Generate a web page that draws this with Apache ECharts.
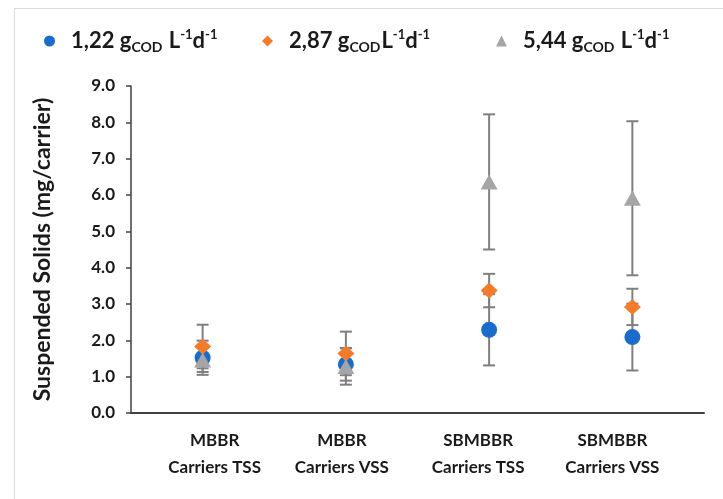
<!DOCTYPE html>
<html>
<head>
<meta charset="UTF-8">
<title>Suspended Solids</title>
<script src="https://cdn.jsdelivr.net/npm/echarts@6/dist/echarts.min.js"></script>
<style>
  html, body { margin: 0; padding: 0; background: #fff; }
  #frame { position: absolute; left: 14px; top: 8px; width: 760px; height: 560px; border: 1px solid #d9d9d9; }
  #chart { position: absolute; left: 0; top: 0; width: 723px; height: 499px; }
</style>
</head>
<body>
<div id="frame"></div>
<div id="chart"></div>
<script type="text/javascript">
  // categories and tick labels
  var categories = ['MBBR\nCarriers TSS', 'MBBR\nCarriers VSS', 'SBMBBR\nCarriers TSS', 'SBMBBR\nCarriers VSS'];
  var yTicks = [0, 1, 2, 3, 4, 5, 6, 7, 8, 9];
  var seriesNames = ['1,22', '2,87', '5,44'];

  // means and error (+/-) per loading rate
  var blueVals = [1.52, 1.34, 2.29, 2.09];
  var blueErr = [0.47, 0.45, 0.98, 0.92];
  var orangeVals = [1.83, 1.64, 3.37, 2.92];
  var orangeErr = [0.60, 0.60, 0.46, 0.50];
  var grayVals = [1.46, 1.28, 6.36, 5.91];
  var grayErr = [0.33, 0.50, 1.86, 2.12];

  var colors = ['#1a6ccc', '#f47b2a', '#a5a5a5'];
  var font = 'Lato, "Liberation Sans", sans-serif';

  // error bar rows: [category index, low, high]
  var errRows = [];
  [[blueVals, blueErr], [orangeVals, orangeErr], [grayVals, grayErr]].forEach(function (p) {
    for (var i = 0; i < p[0].length; i++) {
      errRows.push([i, p[0][i] - p[1][i], p[0][i] + p[1][i]]);
    }
  });

  // small shifts of the category text, like in the original
  var labelShift = [12, -4, -11, -20];

  function legendText(name) {
    if (name === '2,87') {
      return '{sp|}{b|' + name + ' g}{sub|COD}{b|L}{sup|-1}{b|d}{sup|-1}';
    }
    return '{sp|}{b|' + name + ' g}{sub|COD}{b| L}{sup|-1}{b|d}{sup|-1}';
  }
  var legendRich = {
    sp: { width: 11 },
    b: { fontFamily: font, fontWeight: 'bold', fontSize: 22, color: '#1a1a1a', lineHeight: 26 },
    sub: { fontFamily: font, fontWeight: 'bold', fontSize: 14, color: '#1a1a1a', lineHeight: 14, verticalAlign: 'bottom', padding: [0, 1, 0, 0] },
    sup: { fontFamily: font, fontWeight: 'bold', fontSize: 13, color: '#1a1a1a', lineHeight: 13, verticalAlign: 'top' }
  };

  function makeLegend(name, left) {
    return {
      data: [name],
      left: left,
      top: 23,
      itemWidth: 11,
      itemHeight: 11,
      formatter: legendText,
      textStyle: { rich: legendRich }
    };
  }

  var xRich = {};
  labelShift.forEach(function (s, i) {
    xRich['c' + i] = {
      fontFamily: font, fontWeight: 'bold', fontSize: 17, color: '#1a1a1a', lineHeight: 27,
      padding: s > 0 ? [0, 0, 0, 2 * s] : [0, -2 * s, 0, 0]
    };
  });

  var myChart = echarts.init(document.getElementById('chart'));
  var option = {
    animation: false,
    backgroundColor: 'transparent',
    color: colors,
    legend: [
      makeLegend(seriesNames[0], 39),
      makeLegend(seriesNames[1], 257),
      makeLegend(seriesNames[2], 491)
    ],
    grid: { left: 131, right: 19, top: 86, bottom: 86 },
    xAxis: {
      type: 'category',
      data: categories,
      boundaryGap: true,
      axisLine: { lineStyle: { color: '#404040', width: 2 } },
      axisTick: { show: false },
      axisLabel: {
        margin: 14,
        interval: 0,
        formatter: function (v, i) {
          return v.split('\n').map(function (t) { return '{c' + i + '|' + t + '}'; }).join('\n');
        },
        rich: xRich
      },
      splitLine: { show: false }
    },
    yAxis: {
      type: 'value',
      min: yTicks[0],
      max: yTicks[yTicks.length - 1],
      interval: 1,
      name: 'Suspended Solids (mg/carrier)',
      nameLocation: 'middle',
      nameGap: 77,
      nameTextStyle: { fontFamily: font, fontWeight: 'bold', fontSize: 23, color: '#1a1a1a' },
      axisLine: { show: true, lineStyle: { color: '#404040', width: 1.5 } },
      axisTick: { show: true, length: 5, lineStyle: { color: '#404040', width: 1.5 } },
      axisLabel: {
        margin: 16,
        fontFamily: font, fontWeight: 'bold', fontSize: 17, color: '#1a1a1a',
        formatter: function (v) { return v.toFixed(1); }
      },
      splitLine: { show: false }
    },
    series: [
      {
        type: 'custom',
        name: 'err',
        z: 1,
        silent: true,
        data: errRows,
        renderItem: function (params, api) {
          var lo = api.coord([api.value(0), api.value(1)]);
          var hi = api.coord([api.value(0), api.value(2)]);
          var w = 6;
          var st = { stroke: '#7f7f7f', lineWidth: 2 };
          return {
            type: 'group',
            children: [
              { type: 'line', shape: { x1: lo[0], y1: lo[1], x2: hi[0], y2: hi[1] }, style: st },
              { type: 'line', shape: { x1: lo[0] - w, y1: lo[1], x2: lo[0] + w, y2: lo[1] }, style: st },
              { type: 'line', shape: { x1: hi[0] - w, y1: hi[1], x2: hi[0] + w, y2: hi[1] }, style: st }
            ]
          };
        }
      },
      {
        name: seriesNames[0], type: 'scatter', z: 3,
        symbol: 'circle', symbolSize: 16,
        itemStyle: { color: colors[0], opacity: 1 },
        data: blueVals
      },
      {
        name: seriesNames[1], type: 'scatter', z: 4,
        symbol: 'diamond', symbolSize: [17, 16],
        itemStyle: { color: colors[1], opacity: 1 },
        data: orangeVals
      },
      {
        name: seriesNames[2], type: 'scatter', z: 5,
        symbol: 'triangle', symbolSize: [17, 15],
        itemStyle: { color: colors[2], opacity: 1 },
        data: grayVals
      }
    ]
  };
  myChart.setOption(option);
</script>
</body>
</html>
